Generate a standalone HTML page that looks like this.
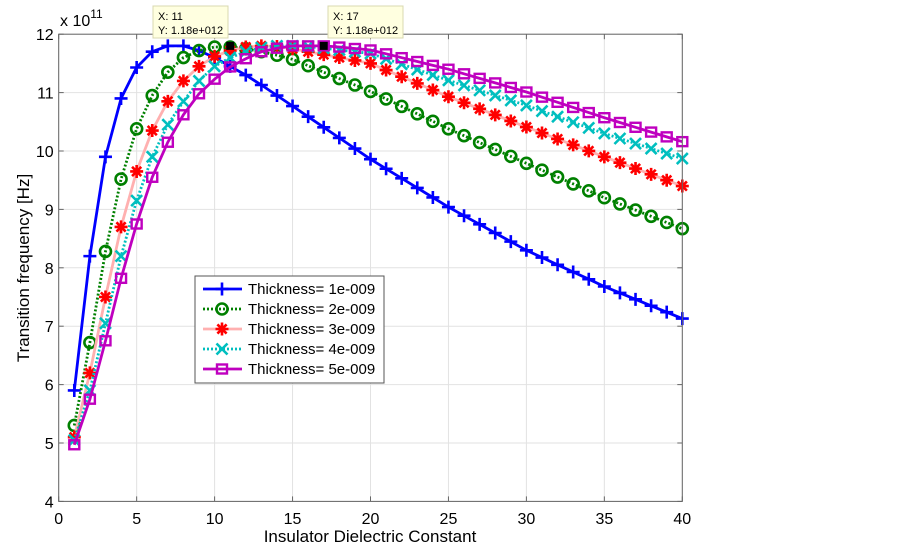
<!DOCTYPE html>
<html><head><meta charset="utf-8"><style>
html,body{margin:0;padding:0;background:#fff;}
svg{display:block;font-family:"Liberation Sans",Arial,sans-serif;}
</style></head><body>
<svg id="s" width="903" height="547" viewBox="0 0 903 547" xmlns="http://www.w3.org/2000/svg"></svg>
<script>
const X0=58.7,X1=682.3,Y0=34.2,UY=58.4;
const px=x=>X0+x*(X1-X0)/40, py=v=>Y0+(12-v)*UY;
function interp(pts){const ks=Object.keys(pts).map(Number).sort((a,b)=>a-b);const out=[];
for(let x=1;x<=40;x++){let i=0;while(i<ks.length-1&&ks[i+1]<x)i++;
if(pts[x]!==undefined){out.push(pts[x]);continue;}
const a=ks[i],b=ks[i+1];out.push(pts[a]+(pts[b]-pts[a])*(x-a)/(b-a));}return out;}
const S=[
{c:'#0000ff',lc:'#0000ff',dash:'',m:'plus',d:{1:5.9,2:8.2,3:9.9,4:10.9,5:11.43,6:11.7,7:11.8,8:11.8,9:11.72,10:11.6,11:11.45,12:11.3,13:11.13,14:10.95,15:10.77,20:9.86,25:9.04,30:8.30,35:7.68,40:7.13},l:'Thickness= 1e-009'},
{c:'#008000',lc:'#008000',dash:'2,2',m:'o',d:{1:5.3,2:6.72,3:8.28,4:9.52,5:10.38,6:10.95,7:11.35,8:11.6,9:11.72,10:11.78,11:11.78,12:11.75,13:11.7,14:11.64,15:11.57,20:11.02,25:10.38,30:9.79,35:9.20,40:8.67},l:'Thickness= 2e-009'},
{c:'#ff0000',lc:'#ffb0b0',dash:'',m:'star',d:{1:5.1,2:6.2,3:7.5,4:8.7,5:9.65,6:10.35,7:10.85,8:11.2,9:11.45,10:11.62,11:11.72,12:11.78,13:11.8,14:11.79,15:11.75,20:11.5,25:10.93,30:10.41,35:9.90,40:9.40},l:'Thickness= 3e-009'},
{c:'#00bfbf',lc:'#00bfbf',dash:'2,2',m:'x',d:{1:5.05,2:5.9,3:7.05,4:8.2,5:9.15,6:9.9,7:10.45,8:10.85,9:11.2,10:11.45,11:11.6,12:11.7,13:11.77,14:11.8,15:11.8,16:11.79,20:11.67,25:11.21,30:10.78,35:10.30,40:9.87},l:'Thickness= 4e-009'},
{c:'#bf00bf',lc:'#bf00bf',dash:'',m:'sq',d:{1:4.97,2:5.75,3:6.75,4:7.82,5:8.75,6:9.55,7:10.15,8:10.62,9:10.98,10:11.23,11:11.44,12:11.58,13:11.7,14:11.76,15:11.8,16:11.8,17:11.8,18:11.78,20:11.73,25:11.40,30:11.01,35:10.57,40:10.16},l:'Thickness= 5e-009'}];
function mk(t,x,y,c){const r=6.5;switch(t){
case 'plus':return `<path d="M${x-r} ${y}H${x+r}M${x} ${y-r}V${y+r}" stroke="${c}" stroke-width="2.6"/>`;
case 'o':return `<circle cx="${x}" cy="${y}" r="5.5" fill="none" stroke="${c}" stroke-width="2.6"/>`;
case 'star':return `<path d="M${x-r} ${y}H${x+r}M${x} ${y-r}V${y+r}M${x-4.6} ${y-4.6}L${x+4.6} ${y+4.6}M${x-4.6} ${y+4.6}L${x+4.6} ${y-4.6}" stroke="${c}" stroke-width="2.6"/>`;
case 'x':return `<path d="M${x-5.5} ${y-5.5}L${x+5.5} ${y+5.5}M${x-5.5} ${y+5.5}L${x+5.5} ${y-5.5}" stroke="${c}" stroke-width="2.6"/>`;
case 'sq':return `<rect x="${x-5}" y="${y-4.5}" width="10" height="9" fill="none" stroke="${c}" stroke-width="2.4"/>`;}}
let h='';
for(let i=0;i<=8;i++){const x=px(i*5);h+=`<line x1="${x}" y1="${Y0}" x2="${x}" y2="${py(4)}" stroke="#e2e2e2"/>`;}
for(let v=4;v<=12;v++){const y=py(v);h+=`<line x1="${X0}" y1="${y}" x2="${X1}" y2="${y}" stroke="#e2e2e2"/>`;}
for(const s of S){const v=interp(s.d);let d='';v.forEach((y,i)=>{d+=(i?'L':'M')+px(i+1).toFixed(1)+' '+py(y).toFixed(1);});
h+=`<path d="${d}" fill="none" stroke="${s.lc}" stroke-width="2.8" ${s.dash?`stroke-dasharray="2,2"`:''}/>`;
v.forEach((y,i)=>{h+=mk(s.m,px(i+1),py(y),s.c);});}
h+=`<rect x="${X0}" y="${Y0}" width="${X1-X0}" height="${py(4)-Y0}" fill="none" stroke="#666" stroke-width="1"/>`;
for(let i=0;i<=8;i++){const x=px(i*5);h+=`<line x1="${x}" y1="${py(4)}" x2="${x}" y2="${py(4)-5}" stroke="#666"/><line x1="${x}" y1="${Y0}" x2="${x}" y2="${Y0+5}" stroke="#666"/><text x="${x}" y="524" font-size="16" text-anchor="middle">${i*5}</text>`;}
for(let v=4;v<=12;v++){const y=py(v);h+=`<line x1="${X0}" y1="${y}" x2="${X0+5}" y2="${y}" stroke="#666"/><line x1="${X1}" y1="${y}" x2="${X1-5}" y2="${y}" stroke="#666"/><text x="${X0-5}" y="${y+6}" font-size="16" text-anchor="end">${v}</text>`;}
h+=`<text x="60" y="26" font-size="16">x 10<tspan font-size="12" dy="-8">11</tspan></text>`;
h+=`<text x="370" y="542" font-size="17" text-anchor="middle">Insulator Dielectric Constant</text>`;
h+=`<text transform="translate(29,268) rotate(-90)" font-size="17" text-anchor="middle">Transition frequency [Hz]</text>`;
for(const [bx,x,lab] of [[153,11,'X: 11'],[328,17,'X: 17']]){
h+=`<rect x="${bx}" y="6" width="75" height="32" fill="#ffffe0" stroke="#d8d8b0"/><text x="${bx+5}" y="20" font-size="11">${lab}</text><text x="${bx+5}" y="34" font-size="11">Y: 1.18e+012</text>`;
h+=`<rect x="${px(x)-4}" y="${py(11.8)-4}" width="8" height="8" fill="#000"/>`;}
h+=`<rect x="195" y="276" width="189" height="107" fill="#fff" stroke="#555"/>`;
S.forEach((s,i)=>{const y=289+i*20;h+=`<line x1="203" y1="${y}" x2="242" y2="${y}" stroke="${s.lc}" stroke-width="2.8" ${s.dash?`stroke-dasharray="2,2"`:''}/>`+mk(s.m,222,y,s.c)+`<text x="248" y="${y+5}" font-size="15">${s.l}</text>`;});
document.getElementById('s').innerHTML=h;
</script>
</body></html>
